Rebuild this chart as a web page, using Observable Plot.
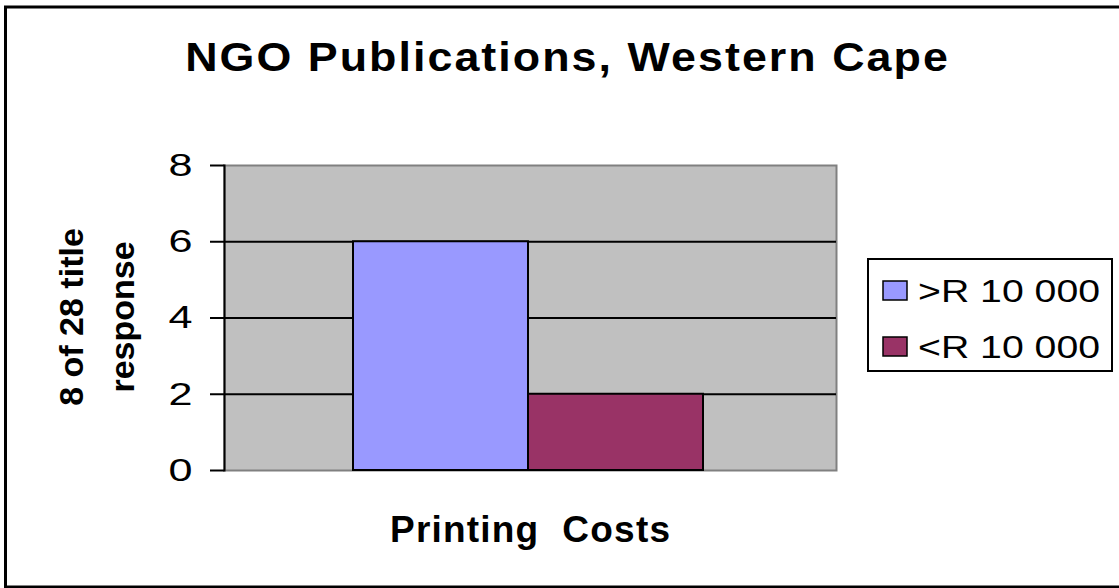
<!DOCTYPE html>
<html>
<head>
<meta charset="utf-8">
<script src="https://cdn.jsdelivr.net/npm/d3@7"></script>
<script src="https://cdn.jsdelivr.net/npm/@observablehq/plot@0.6"></script>
<style>
  html, body { margin: 0; padding: 0; background: #fff; }
  #chart { position: relative; width: 1119px; height: 588px; overflow: hidden; }
  #chart svg { font-family: "Liberation Sans", Arial, sans-serif; }
</style>
</head>
<body>
<div id="chart"></div>
<script>
// Chart text
const title = "NGO Publications, Western Cape";
const xLabel = "Printing  Costs";
const yLabelLines = ["8 of 28 title", "response"];

// Series (one bar per cost band) and their counts
const series = [">R 10 000", "<R 10 000"];
const values = [6, 2];
const seriesColors = ["#9999ff", "#993366"];

// Value axis
const yTicks = [0, 2, 4, 6, 8];
const gridValues = [2, 4, 6];

const data = series.map((s, i) => ({series: s, value: values[i]}));

const plot = Plot.plot({
  width: 1119,
  height: 588,
  marginLeft: 224,
  marginRight: 283,
  marginTop: 165,
  marginBottom: 118,
  style: {background: "white", fontFamily: "'Liberation Sans', Arial, sans-serif", color: "black"},
  x: {type: "band", domain: series, paddingInner: 0, paddingOuter: 0.744, align: 0.494, axis: null},
  y: {domain: [0, 8]},
  color: {domain: series, range: seriesColors},
  marks: [
    Plot.frame({fill: "#c0c0c0", stroke: "#808080", strokeWidth: 2}),
    Plot.ruleY(gridValues, {stroke: "black", strokeWidth: 2}),
    Plot.barY(data, {x: "series", y: "value", fill: "series", stroke: "black", strokeWidth: 2}),
    Plot.frame({anchor: "left", stroke: "black", strokeWidth: 2}),
    Plot.axisY({ticks: yTicks, tickSize: 14, tickPadding: 18, fontSize: 32, stroke: "black", strokeWidth: 2, label: null})
  ]
});

document.getElementById("chart").appendChild(plot);

const svg = d3.select(plot);
const color = plot.scale("color");

// widen the tick numerals a little
svg.selectAll('g[aria-label="y-axis tick label"] text')
  .attr("textLength", 24)
  .attr("lengthAdjust", "spacingAndGlyphs");

// outer chart border
svg.insert("rect", ":first-child")
  .attr("x", 5.5).attr("y", 7)
  .attr("width", 1125).attr("height", 580)
  .attr("fill", "none").attr("stroke", "black").attr("stroke-width", 3);

// title, slightly widened
svg.append("g")
  .attr("transform", "translate(566.5,71) scale(1.12,1)")
  .append("text")
  .attr("x", 0).attr("y", 0)
  .attr("text-anchor", "middle")
  .attr("font-size", 40).attr("font-weight", "bold")
  .attr("textLength", 681).attr("lengthAdjust", "spacing")
  .text(title);

// y-axis label, two rotated lines
const yLabelX = [83, 134];
yLabelLines.forEach((line, i) => {
  svg.append("text")
    .attr("transform", `translate(${yLabelX[i]},317) rotate(-90)`)
    .attr("text-anchor", "middle")
    .attr("font-size", 34).attr("font-weight", "bold")
    .text(line);
});

// x-axis label
svg.append("text")
  .attr("x", 530).attr("y", 542)
  .attr("text-anchor", "middle")
  .attr("font-size", 37).attr("font-weight", "bold")
  .attr("textLength", 280).attr("lengthAdjust", "spacing")
  .style("white-space", "pre")
  .text(xLabel);

// legend
const legend = svg.append("g").attr("text-anchor", "start");
legend.append("rect")
  .attr("x", 868).attr("y", 259).attr("width", 244).attr("height", 112)
  .attr("fill", "white").attr("stroke", "black").attr("stroke-width", 2);
const rowY = [281, 337];
series.forEach((s, i) => {
  legend.append("rect")
    .attr("x", 883).attr("y", rowY[i]).attr("width", 24).attr("height", 19)
    .attr("fill", color.apply(s)).attr("stroke", "black").attr("stroke-width", 1.5);
  legend.append("text")
    .attr("x", 918).attr("y", rowY[i] + 21)
    .attr("text-anchor", "start")
    .attr("font-size", 31)
    .attr("textLength", 182).attr("lengthAdjust", "spacingAndGlyphs")
    .style("white-space", "pre")
    .text(s);
});
</script>
</body>
</html>
